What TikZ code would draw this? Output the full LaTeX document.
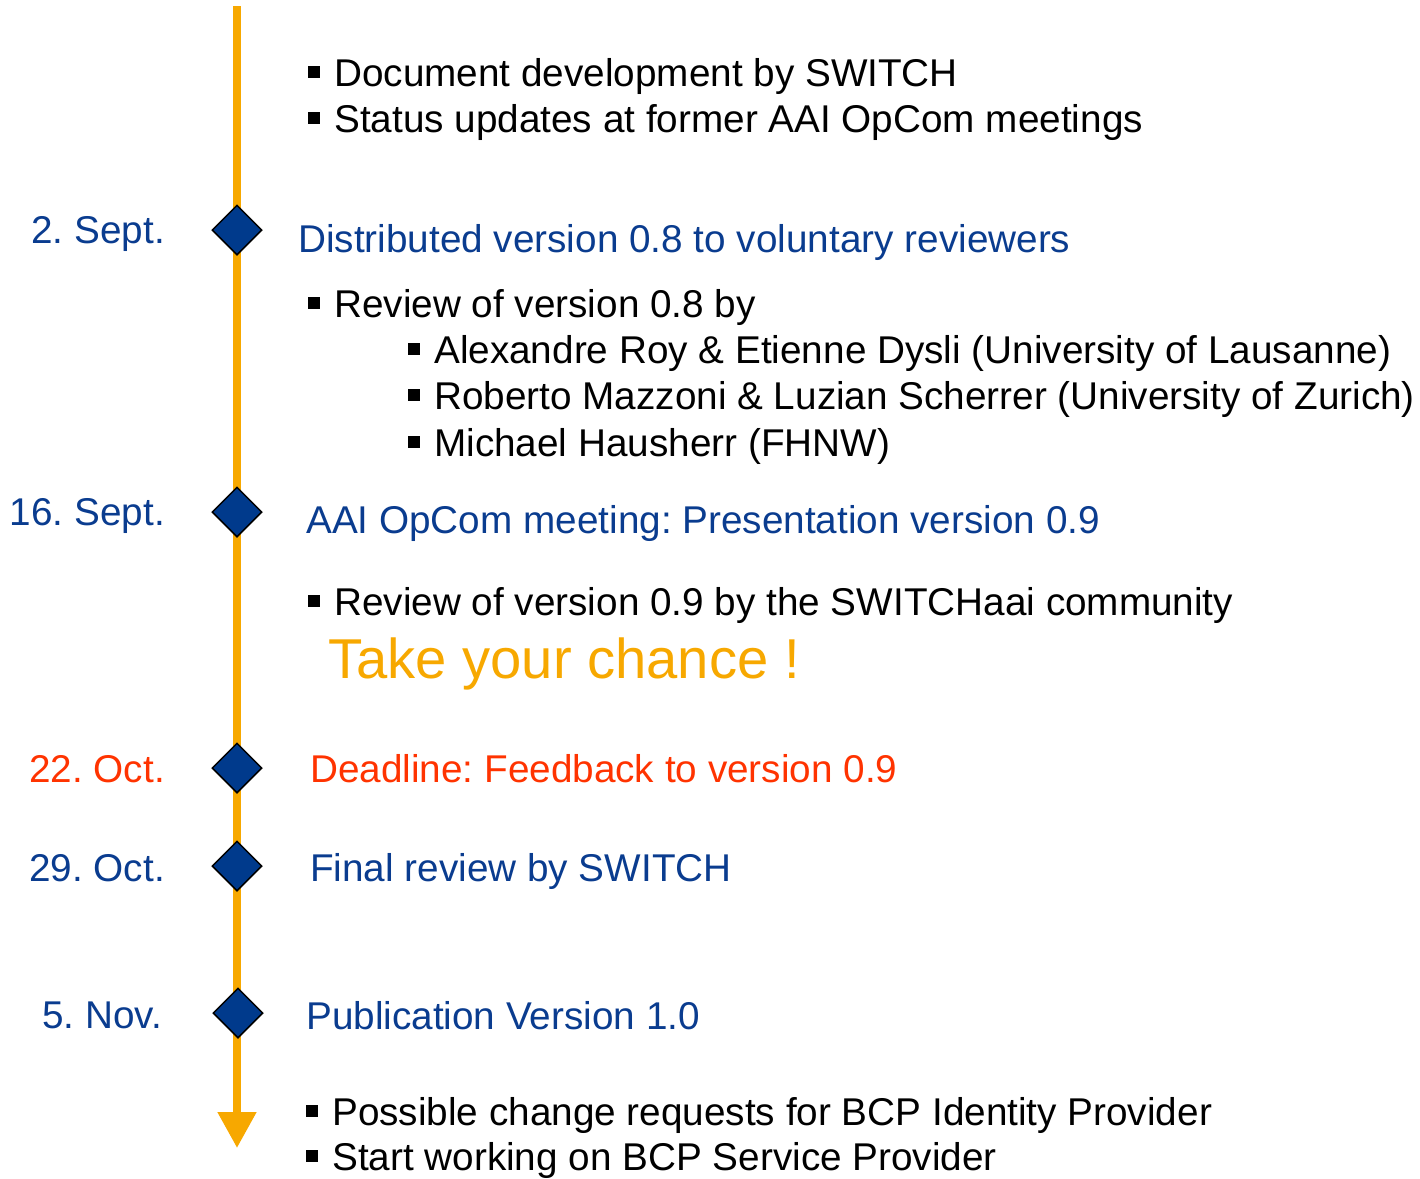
\documentclass[tikz,border=0pt]{standalone}
\usepackage{fontspec}
\setmainfont{Liberation Sans}
\usetikzlibrary{shapes.geometric,arrows.meta}
\definecolor{tblue}{HTML}{0A3C8F}
\definecolor{dblue}{HTML}{003A8C}
\definecolor{torange}{HTML}{F7A800}
\definecolor{tred}{HTML}{FF3300}
\newcommand\bsq{\rule[8pt]{12pt}{12pt}\hspace*{14pt}}
\frenchspacing
\begin{document}
\begin{tikzpicture}[x=1pt,y=-1pt,
  txt/.style={inner sep=0pt,anchor=base west,font=\fontsize{38.7}{40}\selectfont},
  date/.style={inner sep=0pt,anchor=base east,font=\fontsize{38.7}{40}\selectfont},
  event/.style={txt,text=tblue},
  milestone/.style={diamond,draw=black,line width=1.5pt,fill=dblue,inner sep=0pt,minimum width=50pt,minimum height=50pt,aspect=1},
  timeline/.style={draw=torange,line width=8pt,-{Triangle[width=37pt,length=36pt]}}]
\useasboundingbox (0,0) rectangle (1420,1178);
\coordinate (top) at (237,6);
\coordinate (bottom) at (237,1148);
\draw[timeline] (top) -- (bottom);
\node[milestone] (m1) at (237,230) {};
\node[milestone] (m2) at (237,512) {};
\node[milestone] (m3) at (237,768) {};
\node[milestone] (m4) at (237,866) {};
\node[milestone] (m5) at (238,1013) {};
% dates
\node[date,text=tblue] (d1) at (165,243) {2. Sept.};
\node[date,text=tblue] (d2) at (165,525) {16. Sept.};
\node[date,text=tred] (d3) at (165,782) {22. Oct.};
\node[date,text=tblue] (d4) at (165,881) {29. Oct.};
\node[date,text=tblue] (d5) at (162,1028) {5. Nov.};
% events
\node[event] (e1) at (298,252) {Distributed version 0.8 to voluntary reviewers};
\node[event] (e2) at (306,533) {AAI OpCom meeting: Presentation version 0.9};
\node[txt,text=tred] (e3) at (310,782) {Deadline: Feedback to version 0.9};
\node[event] (e4) at (310,881) {Final review by SWITCH};
\node[event] (e5) at (306,1029) {Publication Version 1.0};
% bullets
\node[txt] (b1) at (308,86) {\bsq Document development by SWITCH};
\node[txt] (b2) at (308,132) {\bsq Status updates at former AAI OpCom meetings};
\node[txt] (b3) at (308,317) {\bsq Review of version 0.8 by};
\node[txt] (b4) at (408,363) {\bsq Alexandre Roy \& Etienne Dysli (University of Lausanne)};
\node[txt] (b5) at (408,409) {\bsq Roberto Mazzoni \& Luzian Scherrer (University of Zurich)};
\node[txt] (b6) at (408,456) {\bsq Michael Hausherr (FHNW)};
\node[txt] (b7) at (308,615) {\bsq Review of version 0.9 by the SWITCHaai community};
\node[inner sep=0pt,anchor=base west,font=\fontsize{56.2}{60}\selectfont,text=torange] (take) at (328,678) {Take your chance !};
\node[txt] (b8) at (306,1125) {\bsq Possible change requests for BCP Identity Provider};
\node[txt] (b9) at (306,1170) {\bsq Start working on BCP Service Provider};
\end{tikzpicture}
\end{document}
